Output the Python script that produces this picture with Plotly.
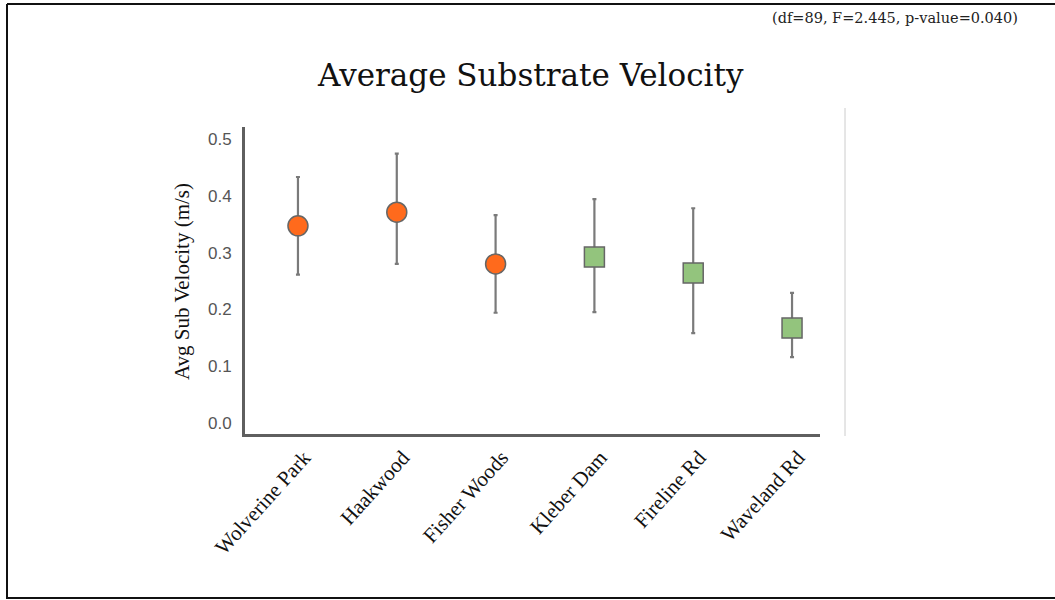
import plotly.graph_objects as go

sites = ["Wolverine Park", "Haakwood", "Fisher Woods", "Kleber Dam", "Fireline Rd", "Waveland Rd"]
means = [0.347, 0.371, 0.280, 0.292, 0.264, 0.167]
upper = [0.433, 0.474, 0.366, 0.394, 0.378, 0.229]
lower = [0.261, 0.280, 0.194, 0.195, 0.158, 0.116]
groups = ["circle", "circle", "circle", "square", "square", "square"]
y_ticks = [0.0, 0.1, 0.2, 0.3, 0.4, 0.5]
title_text = "Average Substrate Velocity"
y_title = "Avg Sub Velocity (m/s)"
stats_text = "(df=89, F=2.445, p-value=0.040)"

W, H = 1055, 600
L, R, T, B = 245, 820, 127, 434  # plot area pixels

def px(x):
    return (x - L) / (R - L)

def py(y):
    return (B - y) / (B - T)

fig = go.Figure()
styles = {"circle": "#FF6A1C", "square": "#93C47D"}
for g in ["circle", "square"]:
    idx = [i for i, gg in enumerate(groups) if gg == g]
    fig.add_trace(go.Scatter(
        x=[sites[i] for i in idx],
        y=[means[i] for i in idx],
        mode="markers",
        marker=dict(symbol=g, size=20, color=styles[g],
                    line=dict(color="#666666", width=1.5)),
        error_y=dict(type="data", symmetric=False,
                     array=[upper[i] - means[i] for i in idx],
                     arrayminus=[means[i] - lower[i] for i in idx],
                     color="#7a7a7a", thickness=2.2, width=2),
        showlegend=False,
    ))

fig.update_layout(
    width=W, height=H,
    margin=dict(l=L, r=W - R, t=T, b=H - B),
    plot_bgcolor="white", paper_bgcolor="white",
    xaxis=dict(
        type="category", categoryorder="array", categoryarray=sites,
        range=[-0.536, 5.283],
        showgrid=False, zeroline=False,
        showline=True, linecolor="#5f5f5f", linewidth=3,
        tickangle=-48, ticks="", ticklabelshift=6,
        tickfont=dict(family="Liberation Serif", size=21, color="#111111"),
    ),
    yaxis=dict(
        range=[-0.0194, 0.521],
        tickvals=y_ticks, ticktext=[f"{v:.1f}" for v in y_ticks],
        showgrid=False, zeroline=False,
        showline=True, linecolor="#5f5f5f", linewidth=3,
        ticks="", ticklabelstandoff=7,
        tickfont=dict(family="Liberation Sans", size=17, color="#555555"),
    ),
    annotations=[
        dict(text=title_text, xref="paper", yref="paper", x=px(530), y=py(75),
             showarrow=False, xanchor="center", yanchor="middle",
             font=dict(family="DejaVu Serif", size=31, color="#111111")),
        dict(text=y_title, xref="paper", yref="paper", x=px(182), y=py(282),
             showarrow=False, xanchor="center", yanchor="middle", textangle=-90,
             font=dict(family="Liberation Serif", size=21, color="#111111")),
        dict(text=stats_text, xref="paper", yref="paper", x=px(895), y=py(18),
             showarrow=False, xanchor="center", yanchor="middle",
             font=dict(family="DejaVu Serif", size=14.5, color="#222222")),
    ],
    shapes=[
        dict(type="line", xref="paper", yref="paper", x0=px(845), x1=px(845),
             y0=py(108), y1=py(436), line=dict(color="#cccccc", width=1)),
        dict(type="line", xref="paper", yref="paper", x0=px(7), x1=px(1056),
             y0=py(4), y1=py(4), line=dict(color="#111111", width=2)),
        dict(type="line", xref="paper", yref="paper", x0=px(7), x1=px(7),
             y0=py(4), y1=py(599), line=dict(color="#111111", width=2)),
        dict(type="line", xref="paper", yref="paper", x0=px(7), x1=px(1056),
             y0=py(598), y1=py(598), line=dict(color="#111111", width=2)),
    ],
)

fig.write_html("out.html")
